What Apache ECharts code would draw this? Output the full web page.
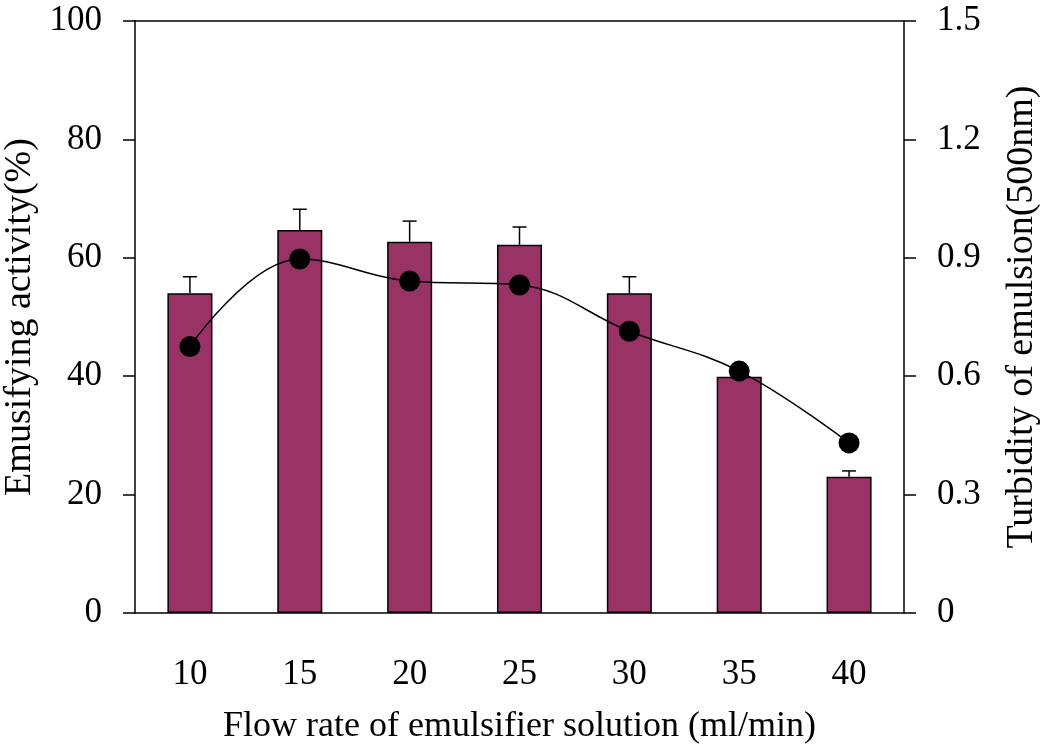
<!DOCTYPE html>
<html>
<head>
<meta charset="utf-8">
<script src="https://cdn.jsdelivr.net/npm/echarts@6/dist/echarts.min.js"></script>
<style>
  html, body { margin: 0; padding: 0; background: #fff; }
  #chart { width: 1042px; height: 745px; }
</style>
</head>
<body>
<div id="chart"></div>
<script>
// Flow rate of emulsifier solution (ml/min)
const flowRates = ['10', '15', '20', '25', '30', '35', '40'];
// Emulsifying activity (%) — bars, left axis
const activity = [54.0, 64.7, 62.7, 62.2, 54.0, 39.9, 23.0];
// Upper error (standard deviation) for the activity bars
const activityErr = [2.8, 3.5, 3.5, 3.0, 2.8, 1.5, 1.0];
// Turbidity of emulsion at 500 nm — line, right axis
const turbidity = [0.675, 0.897, 0.841, 0.831, 0.714, 0.613, 0.431];

const leftTicks = [0, 20, 40, 60, 80, 100];
const rightTicks = [0, 0.3, 0.6, 0.9, 1.2, 1.5];

const FONT = '"Liberation Serif", "DejaVu Serif", serif';
const BAR_COLOR = '#993366';

const chart = echarts.init(document.getElementById('chart'), null, { renderer: 'canvas' });

const errData = activity.map((v, i) => [i, v, v + activityErr[i]]);

const axisLineStyle = { color: '#000', width: 1.5 };

chart.setOption({
  animation: false,
  backgroundColor: '#ffffff',
  grid: { left: 135, right: 138, top: 21, bottom: 132, containLabel: false, outerBoundsMode: 'none' },
  xAxis: [
    {
      type: 'category',
      data: flowRates,
      position: 'bottom',
      axisLine: { show: true, onZero: false, lineStyle: axisLineStyle },
      axisTick: { show: false },
      axisLabel: { color: '#000', fontFamily: FONT, fontSize: 35, margin: 44 },
      name: 'Flow rate of emulsifier solution (ml/min)',
      nameLocation: 'middle',
      nameGap: 96,
      nameTextStyle: { color: '#000', fontFamily: FONT, fontSize: 36 }
    },
    {
      type: 'category',
      data: flowRates,
      position: 'top',
      axisLine: { show: true, onZero: false, lineStyle: axisLineStyle },
      axisTick: { show: false },
      axisLabel: { show: false }
    }
  ],
  yAxis: [
    {
      type: 'value',
      min: leftTicks[0],
      max: leftTicks[leftTicks.length - 1],
      interval: leftTicks[1] - leftTicks[0],
      position: 'left',
      axisLine: { show: true, onZero: false, lineStyle: axisLineStyle },
      axisTick: { show: true, inside: false, length: 12, lineStyle: axisLineStyle },
      splitLine: { show: false },
      axisLabel: { color: '#000', fontFamily: FONT, fontSize: 35, margin: 33 },
      name: 'Emusifying activity(%)',
      nameLocation: 'middle',
      nameGap: 87,
      nameRotate: 90,
      nameTextStyle: { color: '#000', fontFamily: FONT, fontSize: 38 }
    },
    {
      type: 'value',
      min: rightTicks[0],
      max: rightTicks[rightTicks.length - 1],
      interval: 0.3,
      position: 'right',
      axisLine: { show: true, onZero: false, lineStyle: axisLineStyle },
      axisTick: { show: true, inside: false, length: 12, lineStyle: axisLineStyle },
      splitLine: { show: false },
      axisLabel: {
        color: '#000', fontFamily: FONT, fontSize: 35, margin: 33,
        formatter: v => (v === 0 ? '0' : v.toFixed(1))
      },
      name: 'Turbidity of emulsion(500nm)',
      nameLocation: 'middle',
      nameGap: 99,
      nameRotate: 90,
      nameTextStyle: { color: '#000', fontFamily: FONT, fontSize: 38 }
    }
  ],
  series: [
    {
      name: 'activity',
      type: 'bar',
      xAxisIndex: 0,
      yAxisIndex: 0,
      data: activity,
      barWidth: '41%',
      itemStyle: { color: BAR_COLOR, borderColor: '#000', borderWidth: 1.5 },
      z: 2
    },
    {
      name: 'activity error',
      type: 'custom',
      xAxisIndex: 0,
      yAxisIndex: 0,
      data: errData,
      z: 3,
      renderItem: function (params, api) {
        const x = api.value(0);
        const base = api.coord([x, api.value(1)]);
        const top = api.coord([x, api.value(2)]);
        const half = 7;
        const style = { stroke: '#000', lineWidth: 1.5, fill: null };
        return {
          type: 'group',
          children: [
            { type: 'line', shape: { x1: base[0], y1: base[1], x2: top[0], y2: top[1] }, style: style },
            { type: 'line', shape: { x1: top[0] - half, y1: top[1], x2: top[0] + half, y2: top[1] }, style: style }
          ]
        };
      }
    },
    {
      name: 'turbidity',
      type: 'line',
      xAxisIndex: 0,
      yAxisIndex: 1,
      data: turbidity,
      smooth: 0.4,
      symbol: 'circle',
      symbolSize: 21,
      lineStyle: { color: '#000', width: 1.5 },
      itemStyle: { color: '#000' },
      z: 4
    }
  ]
});
</script>
</body>
</html>
